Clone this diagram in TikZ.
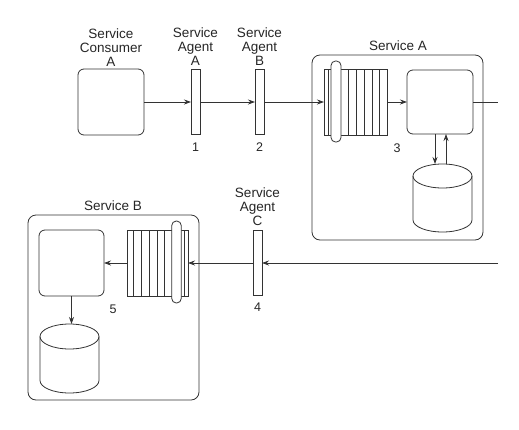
\documentclass[tikz,border=0pt]{standalone}
\usepackage{fontspec}
\setmainfont{Liberation Sans}
\usetikzlibrary{arrows.meta}
\begin{document}
\begin{tikzpicture}[x=1pt,y=-1pt,
  every node/.style={inner sep=0pt, outer sep=0pt},
  lbl/.style={font=\fontsize{13.5}{14}\selectfont, align=center, anchor=south, text=black!85},
  num/.style={font=\fontsize{12.5}{14}\selectfont, anchor=south, text=black!85},
  ln/.style={line width=0.8pt, draw=black!80},
  box/.style={ln, rounded corners=6pt},
  svc/.style={ln, rounded corners=8pt, minimum width=171pt, minimum height=185pt},
  bar/.style={ln, minimum width=9pt, minimum height=65pt},
  queue/.style={ln, minimum width=63pt, minimum height=66pt},
  roller/.style={ln, fill=white, rounded corners=4.5pt},
  arr/.style={ln, -{Stealth[length=7pt,width=5pt]}}]
\useasboundingbox (0,0) rectangle (519,429);

% ---------- service containers ----------
\node[svc] (svcA) at (397.5,147.5) {};
\node[svc] (svcB) at (113.5,307.5) {};
\node[lbl] (svcAlbl) at (398,51) {Service A};
\node[lbl] (svcBlbl) at (113,211) {Service B};

% ---------- consumer and agents ----------
\node[box, minimum width=66pt, minimum height=66pt] (cons) at (111,102) {};
\node[lbl] (conslbl) at (111,66) {Service\\Consumer\\A};
\node[bar] (agA) at (195.5,102) {};
\node[bar] (agB) at (259.5,102) {};
\node[lbl] (agAlbl) at (195.5,65) {Service\\Agent\\A};
\node[lbl] (agBlbl) at (259.5,65) {Service\\Agent\\B};
\node[num] (n1) at (195.5,151) {1};
\node[num] (n2) at (259.5,151) {2};

% ---------- Service A internals ----------
\node[queue] (qA) at (355.5,102) {};
\foreach \x in {328,348,356,364,372,379} \draw[ln] (\x,69) -- (\x,135);
\node[roller, minimum width=10pt, minimum height=81pt] (rA) at (336,101.5) {};
\node[box, minimum width=66pt, minimum height=64pt] (procA) at (440,102) {};
\node[minimum width=59pt, minimum height=68pt] (dbA) at (442.5,198) {};
\draw[ln] (442.5,176) ellipse [x radius=29.5pt, y radius=12pt];
\draw[ln] (413,176) -- (413,220) arc[start angle=180, end angle=360, x radius=29.5pt, y radius=12pt] -- (472,176);
\node[num] (n3) at (397,153) {3};
\coordinate (outA) at (498,102);

% ---------- Service Agent C ----------
\node[bar] (agC) at (257.5,263) {};
\node[lbl] (agClbl) at (257.5,226) {Service\\Agent\\C};
\node[num] (n4) at (257.5,311) {4};
\coordinate (inB) at (498,263);

% ---------- Service B internals ----------
\node[queue, minimum width=61pt] (qB) at (157.5,263) {};
\foreach \x in {133,141,149,157,164,184} \draw[ln] (\x,230) -- (\x,296);
\node[roller, minimum width=9.5pt, minimum height=82pt] (rB) at (176.5,262) {};
\node[box, minimum width=65pt, minimum height=66pt] (procB) at (71.5,263) {};
\node[minimum width=59pt, minimum height=69pt] (dbB) at (69.5,358.5) {};
\draw[ln] (69.5,336.5) ellipse [x radius=29.5pt, y radius=12.5pt];
\draw[ln] (40,336.5) -- (40,380.5) arc[start angle=180, end angle=360, x radius=29.5pt, y radius=12.5pt] -- (99,336.5);
\node[num] (n5) at (113,314) {5};

% ---------- connectors ----------
\draw[arr] (cons) -- (agA);
\draw[arr] (agA) -- (agB);
\draw[arr] (agB) -- (qA);
\draw[arr] (qA) -- (procA);
\draw[ln] (procA) -- (outA);
\draw[arr] ([xshift=-5pt]procA.south) -- ([xshift=-5pt]procA.south |- dbA.north);
\draw[arr] ([xshift=6pt]procA.south |- dbA.north) -- ([xshift=6pt]procA.south);
\draw[arr] (inB) -- (agC);
\draw[arr] (agC) -- (qB);
\draw[arr] (qB) -- (procB);
\draw[arr] (procB.south) -- (procB.south |- dbB.north);
\end{tikzpicture}
\end{document}
